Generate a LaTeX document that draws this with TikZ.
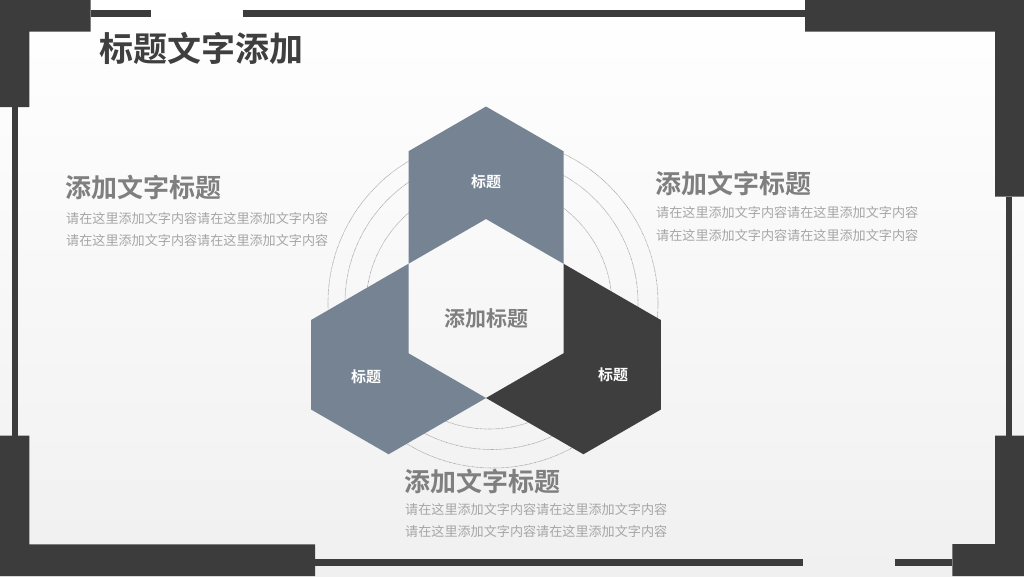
\documentclass[tikz,border=0pt]{standalone}
\usepackage{fontspec}
\usetikzlibrary{calc}
\newfontfamily\cjk{Noto Sans CJK SC}
\newfontfamily\cjkb{Noto Sans CJK SC Bold}
\definecolor{framedark}{HTML}{3C3C3C}
\definecolor{slate}{HTML}{758393}
\definecolor{piecedark}{HTML}{3E3E3E}
\definecolor{titlec}{HTML}{3F3F3F}
\definecolor{headc}{HTML}{7F7F7F}
\definecolor{bodyc}{HTML}{A6A6A6}
\definecolor{bgbottom}{HTML}{F0F0F0}
\definecolor{ringc}{HTML}{A0A0A0}
\tikzset{
  framepart/.style={fill=framedark, draw=none},
  ring/.style={draw=ringc, line width=0.6pt, dash pattern=on 0.7pt off 0.6pt},
  slatepiece/.style={fill=slate, draw=none},
  darkpiece/.style={fill=piecedark, draw=none},
  titletext/.style={anchor=base west, inner sep=0pt, text=titlec, font=\cjkb\fontsize{34}{40}\selectfont},
  headtext/.style={anchor=base west, inner sep=0pt, text=headc, font=\cjkb\fontsize{26}{30}\selectfont},
  bodytext/.style={anchor=base west, inner sep=0pt, text=bodyc, font=\cjk\fontsize{13.1}{16}\selectfont},
  labeltext/.style={anchor=base, inner sep=0pt, text=white, font=\cjkb\fontsize{15}{18}\selectfont},
  centertext/.style={anchor=base, inner sep=0pt, text=headc, font=\cjkb\fontsize{21}{24}\selectfont}
}
\begin{document}
\begin{tikzpicture}[x=1pt,y=-1pt]
\useasboundingbox (0,0) rectangle (1024,576);
\shade[top color=white, bottom color=bgbottom] (0,0) rectangle (1024,576);

% frame
\fill[framepart] (0,0) -- (90.7,0) -- (90.7,31.7) -- (29.3,31.7) -- (29.3,107) -- (0,107) -- cycle;
\fill[framepart] (90.7,10) rectangle (150.7,16.5);
\fill[framepart] (242.7,10) rectangle (805,16.5);
\fill[framepart] (805,0) -- (1024,0) -- (1024,196.7) -- (995,196.7) -- (995,31.7) -- (805,31.7) -- cycle;
\fill[framepart] (1006,196.7) rectangle (1011.7,435.7);
\fill[framepart] (995,435.7) -- (1024,435.7) -- (1024,576) -- (952.3,576) -- (952.3,544) -- (995,544) -- cycle;
\fill[framepart] (315,559.3) rectangle (803.3,565.7);
\fill[framepart] (895,559.3) rectangle (952.3,565.7);
\fill[framepart] (0,435.7) -- (29.3,435.7) -- (29.3,544.3) -- (315,544.3) -- (315,576) -- (0,576) -- cycle;
\fill[framepart] (12.3,107) rectangle (18.3,435.7);

% rings
\draw[ring] (493,303) circle[radius=165];
\draw[ring] (491.5,303) circle[radius=146.5];
\draw[ring] (489,306) circle[radius=123];

% hexagon vertices
\coordinate (T) at (486,219);
\coordinate (UR) at (563.5,263.75);
\coordinate (LR) at (563.5,353.25);
\coordinate (B) at (486,398);
\coordinate (LL) at (408.5,353.25);
\coordinate (UL) at (408.5,263.75);

\fill[slatepiece] (UL) -- (T) -- (UR) -- ($(UR)+(0,-112.5)$) -- ($(T)+(0,-112.5)$) -- ($(UL)+(0,-112.5)$) -- cycle;
\fill[slatepiece] (UL) -- (LL) -- (B) -- ($(B)+(-97.4,56.25)$) -- ($(LL)+(-97.4,56.25)$) -- ($(UL)+(-97.4,56.25)$) -- cycle;
\fill[darkpiece] (UR) -- (LR) -- (B) -- ($(B)+(97.4,56.25)$) -- ($(LR)+(97.4,56.25)$) -- ($(UR)+(97.4,56.25)$) -- cycle;

% labels
\node[labeltext] (ltop) at (486,187.7) {标题};
\node[labeltext] (lleft) at (366,382.7) {标题};
\node[labeltext] (lright) at (613,380.7) {标题};
\node[centertext] (lcenter) at (486,326) {添加标题};

% title
\node[titletext] (title) at (99,61.4) {标题文字添加};

% left block
\node[headtext] (h1) at (65,197.9) {添加文字标题};
\node[bodytext] (b1a) at (66,223) {请在这里添加文字内容请在这里添加文字内容};
\node[bodytext] (b1b) at (66,245) {请在这里添加文字内容请在这里添加文字内容};

% right block
\node[headtext] (h2) at (655,193) {添加文字标题};
\node[bodytext] (b2a) at (656,217.7) {请在这里添加文字内容请在这里添加文字内容};
\node[bodytext] (b2b) at (656,240) {请在这里添加文字内容请在这里添加文字内容};

% bottom block
\node[headtext] (h3) at (404,491.6) {添加文字标题};
\node[bodytext] (b3a) at (405,514) {请在这里添加文字内容请在这里添加文字内容};
\node[bodytext] (b3b) at (405,536) {请在这里添加文字内容请在这里添加文字内容};
\end{tikzpicture}
\end{document}
